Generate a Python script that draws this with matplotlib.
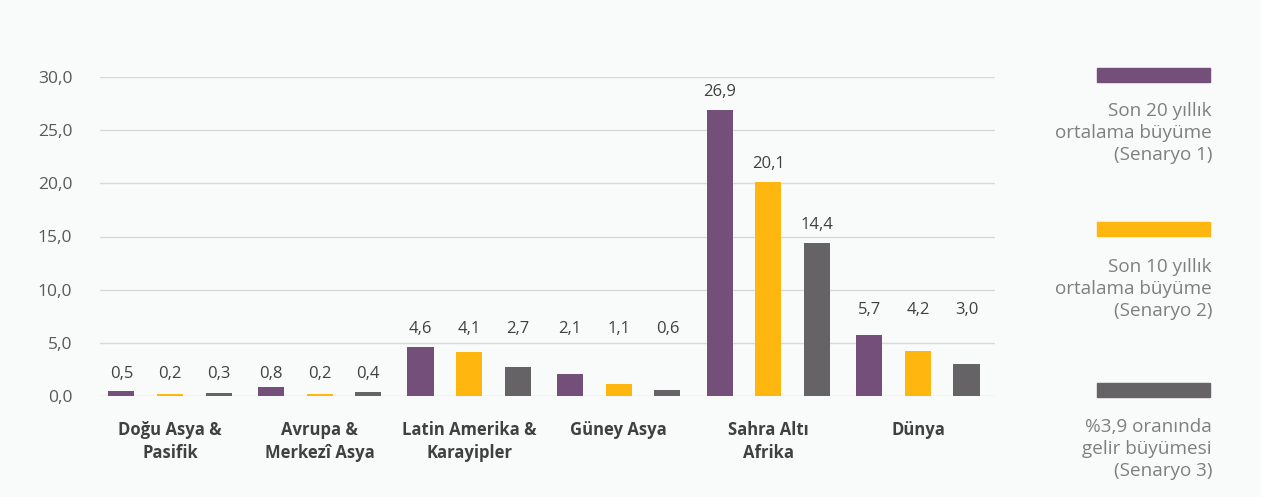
import matplotlib
matplotlib.use("Agg")
import matplotlib.pyplot as plt
import numpy as np

categories = ["Doğu Asya &\nPasifik", "Avrupa &\nMerkezî Asya", "Latin Amerika &\nKarayipler",
              "Güney Asya", "Sahra Altı\nAfrika", "Dünya"]
series_names = ["Son 20 yıllık\nortalama büyüme\n(Senaryo 1)",
                "Son 10 yıllık\nortalama büyüme\n(Senaryo 2)",
                "%3,9 oranında\ngelir büyümesi\n(Senaryo 3)"]
senaryo1 = [0.5, 0.8, 4.6, 2.1, 26.9, 5.7]
senaryo2 = [0.2, 0.2, 4.1, 1.1, 20.1, 4.2]
senaryo3 = [0.3, 0.4, 2.7, 0.6, 14.4, 3.0]
yticks = [0, 5, 10, 15, 20, 25, 30]

# layout: label level per group (None -> above each bar)
label_levels = [2.1, 2.1, 6.3, 6.3, None, 8.1]

colors = ["#734f7a", "#ffb70f", "#666366"]
bg = "#f9fafa"

plt.rcParams['font.family'] = ['Open Sans', 'DejaVu Sans']

fig = plt.figure(figsize=(12.61, 4.97), dpi=100, facecolor=bg)
ax = fig.add_axes([100/1261, 1-396/497, 895/1261, (396-77)/497])
ax.set_facecolor(bg)

x = np.arange(len(categories))
off = 0.325
w = 0.175
allser = [senaryo1, senaryo2, senaryo3]
for i, (vals, c) in enumerate(zip(allser, colors)):
    xs = x + (i - 1) * off
    ax.bar(xs, vals, width=w, color=c, zorder=3)
    for g, (xx, v) in enumerate(zip(xs, vals)):
        lvl = label_levels[g]
        y = v + 1.7 if lvl is None else lvl
        ax.text(xx, y, f"{v:.1f}".replace(".", ","), ha="center", va="center",
                fontsize=12, color="#404040", zorder=4)

ax.set_ylim(0, 30)
ax.set_xlim(-0.468, 5.515)
ax.set_yticks(yticks)
ax.set_yticklabels([f"{t:.1f}".replace(".", ",") for t in yticks], fontsize=12.5, color="#595959")
ax.set_xticks(x)
ax.set_xticklabels(categories, fontsize=12, fontweight="bold", color="#404040", linespacing=1.35)
ax.tick_params(axis="both", length=0)
ax.tick_params(axis="y", pad=20)
ax.tick_params(axis="x", pad=18)
for s in ax.spines.values():
    s.set_visible(False)
ax.yaxis.grid(True, color="#d9d9d9", linewidth=1, zorder=0)
ax.set_axisbelow(True)

# legend
leg_bar_y = [75, 229, 390]
leg_text_y = [133, 289, 449]
for c, name, by, ty in zip(colors, series_names, leg_bar_y, leg_text_y):
    fig.patches.append(plt.Rectangle((1097/1261, 1-(by+7)/497), 113/1261, 14/497,
                                     transform=fig.transFigure, color=c, figure=fig))
    fig.text(1212/1261, 1-ty/497, name, ha="right", va="center", fontsize=13.6,
             color="#7f7f7f", linespacing=1.3)

fig.savefig("out.png", dpi=100, facecolor=bg)
